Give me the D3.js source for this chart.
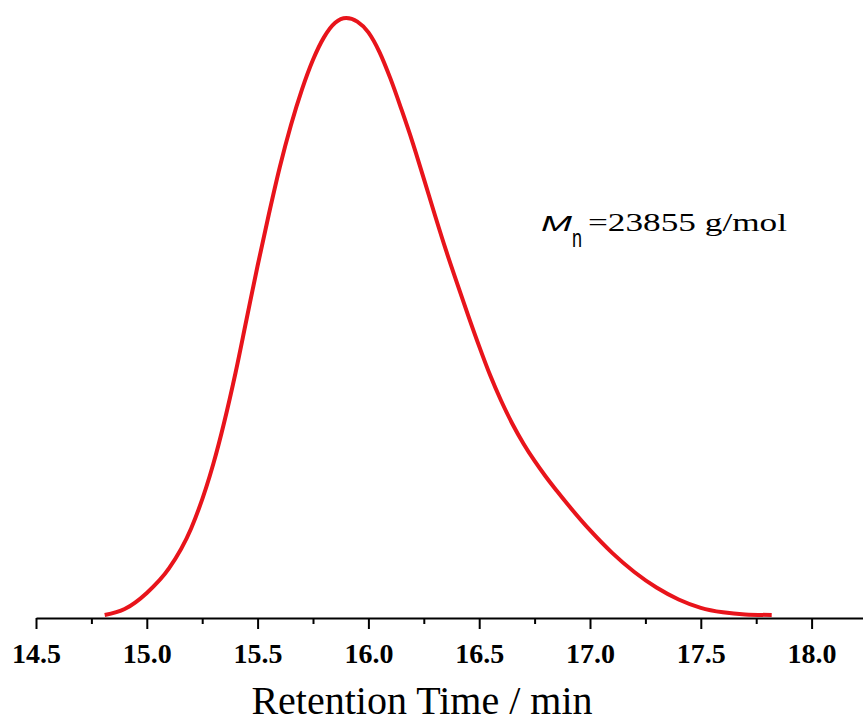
<!DOCTYPE html>
<html>
<head>
<meta charset="utf-8">
<script src="https://cdn.jsdelivr.net/npm/d3@7"></script>
<style>
  body { margin: 0; background: #fff; }
  svg { display: block; }
</style>
</head>
<body>
<svg id="chart" width="863" height="722"></svg>
<script>
// GPC trace (retention time in min, normalised signal)
var times = [14.81, 14.90, 15.00, 15.10, 15.20, 15.30, 15.40, 15.45, 15.50, 15.55,
             15.60, 15.65, 15.70, 15.75, 15.80, 15.85, 15.90, 15.95, 16.00, 16.05,
             16.10, 16.15, 16.20, 16.25, 16.30, 16.35, 16.40, 16.45, 16.50, 16.55,
             16.60, 16.65, 16.70, 16.75, 16.80, 16.85, 16.90, 17.00, 17.10, 17.20,
             17.30, 17.40, 17.50, 17.60, 17.70, 17.82];
var signal = [0, 1.0, 3.7, 7.8, 14.5, 25.3, 40.5, 49.5, 58.5, 67.0,
              75.0, 82.0, 88.0, 93.0, 96.8, 99.2, 100, 99.4, 97.6, 94.3,
              89.8, 84.6, 79.1, 73.1, 67.0, 61.1, 55.6, 50.2, 45.0, 40.1,
              35.8, 32.0, 28.7, 25.8, 23.2, 20.8, 18.5, 14.2, 10.4, 7.2,
              4.6, 2.6, 1.2, 0.45, 0.1, 0];
var majorTicks = [14.5, 15.0, 15.5, 16.0, 16.5, 17.0, 17.5, 18.0];
var minorTicks = [14.75, 15.25, 15.75, 16.25, 16.75, 17.25, 17.75];
var xTitle = "Retention Time / min";

var svg = d3.select("#chart");
var serif = "'Liberation Serif', 'Times New Roman', Times, serif";
var sans = "'Liberation Sans', Arial, Helvetica, sans-serif";

var axisY = 618;

var x = d3.scaleLinear()
    .domain([14.5, 18.25])
    .range([36, 867]);

var y = d3.scaleLinear()
    .domain([0, 100])
    .range([615, 18]);

//minor ticks first, then major ticks with labels
svg.append("g")
    .attr("transform", "translate(0," + axisY + ")")
    .call(d3.axisBottom(x).tickValues(minorTicks).tickSize(6).tickFormat(""))
    .call(function(g) { g.select(".domain").remove(); })
    .selectAll("line").attr("stroke-width", 2);

var xAxis = svg.append("g")
    .attr("transform", "translate(0," + axisY + ")")
    .call(d3.axisBottom(x).tickValues(majorTicks).tickSizeInner(11).tickSizeOuter(0)
        .tickFormat(d3.format(".1f")));

xAxis.select(".domain").attr("stroke-width", 2);
xAxis.selectAll(".tick line").attr("stroke-width", 2);
xAxis.selectAll(".tick text")
    .attr("y", 45)
    .attr("dy", 0)
    .attr("fill", "#000")
    .attr("font-family", serif)
    .attr("font-weight", "bold")
    .attr("font-size", 28);

//axis title
svg.append("text")
    .attr("x", 422)
    .attr("y", 714)
    .attr("text-anchor", "middle")
    .attr("font-family", serif)
    .attr("font-size", 40)
    .text(xTitle);

//the trace
var line = d3.line()
    .x(function(d, i) { return x(times[i]); })
    .y(function(d) { return y(d); })
    .curve(d3.curveMonotoneX);

svg.append("path")
    .datum(signal)
    .attr("d", line)
    .attr("fill", "none")
    .attr("stroke", "#e8141b")
    .attr("stroke-width", 4)
    .attr("stroke-linejoin", "round");

//Mn annotation (the text is stretched sideways in the original)
var note = svg.append("g");
note.append("text")
    .attr("x", 541).attr("y", 231)
    .attr("textLength", 31).attr("lengthAdjust", "spacingAndGlyphs")
    .attr("font-family", sans)
    .attr("font-style", "italic")
    .attr("font-size", 22)
    .text("M");
note.append("text")
    .attr("x", 572).attr("y", 247)
    .attr("textLength", 10).attr("lengthAdjust", "spacingAndGlyphs")
    .attr("font-family", sans)
    .attr("font-size", 25)
    .text("n");
note.append("text")
    .attr("x", 588).attr("y", 231)
    .attr("textLength", 199).attr("lengthAdjust", "spacingAndGlyphs")
    .attr("font-family", serif)
    .attr("font-size", 25)
    .text("=23855 g/mol");
</script>
</body>
</html>
